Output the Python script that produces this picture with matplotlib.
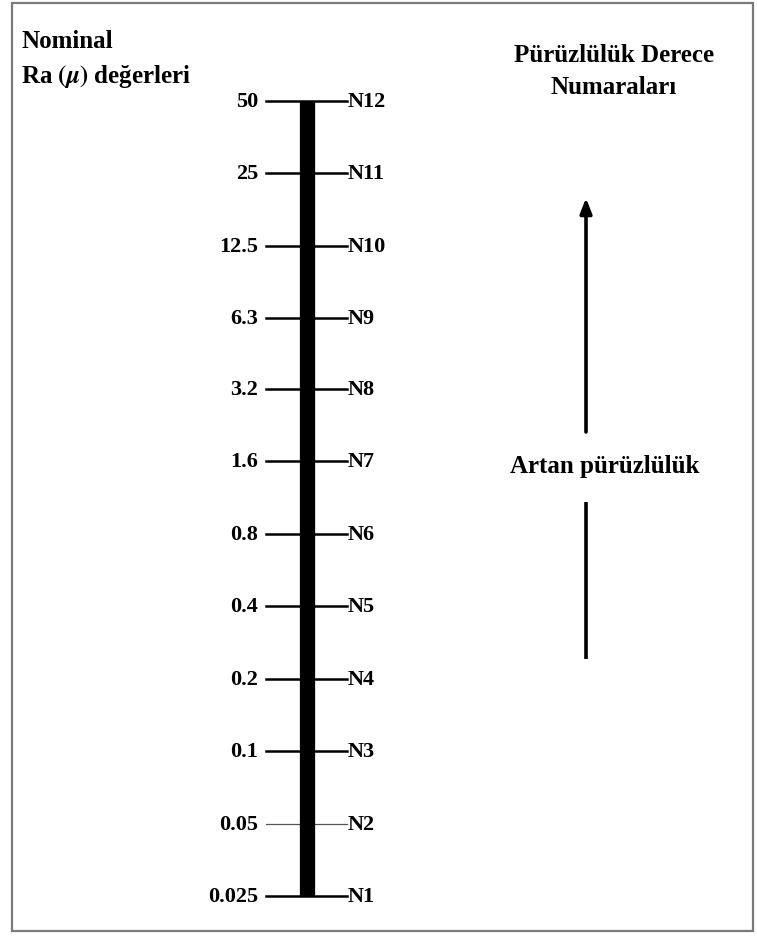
import matplotlib
matplotlib.use("Agg")
import matplotlib.pyplot as plt
from matplotlib.patches import Rectangle

ra_values = [50, 25, 12.5, 6.3, 3.2, 1.6, 0.8, 0.4, 0.2, 0.1, 0.05, 0.025]
ra_labels = ["50", "25", "12.5", "6.3", "3.2", "1.6", "0.8", "0.4", "0.2", "0.1", "0.05", "0.025"]
grade_labels = ["N12", "N11", "N10", "N9", "N8", "N7", "N6", "N5", "N4", "N3", "N2", "N1"]

title_left = ["Nominal", r"Ra $(\mu)$ değerleri"]
title_right = ["Pürüzlülük Derece", "Numaraları"]
arrow_text = "Artan pürüzlülük"

plt.rcParams["font.family"] = ["Liberation Serif", "DejaVu Serif"]
plt.rcParams["font.weight"] = "bold"
plt.rcParams["mathtext.fontset"] = "stix"

W, H = 757, 945
fig = plt.figure(figsize=(W / 100, H / 100), dpi=100)

# overlay in pixel coords for frame, titles and arrow
ov = fig.add_axes([0, 0, 1, 1])
ov.set_xlim(0, W)
ov.set_ylim(H, 0)
ov.axis("off")

ov.add_patch(Rectangle((12, 4), 741, 928, fill=False, edgecolor="#7a7a7a", lw=1.6))

ov.text(21, 42, title_left[0], fontsize=18, ha="left", va="center")
ov.text(21, 76, title_left[1], fontsize=18, ha="left", va="center")
ov.text(614, 56, title_right[0], fontsize=18, ha="center", va="center")
ov.text(614, 88, title_right[1], fontsize=18, ha="center", va="center")

ov.annotate("", xy=(586, 199), xytext=(586, 433),
            arrowprops=dict(arrowstyle="-|>,head_width=0.35,head_length=0.9",
                            color="black", lw=2.6, shrinkA=0, shrinkB=0))
ov.plot([586, 586], [503, 660], color="black", lw=2.6, solid_capstyle="butt")
ov.text(605, 467, arrow_text, fontsize=18, ha="center", va="center")

# scale axes: log y so the doubling steps are evenly spaced
y_top, y_bot = 102, 897
ax = fig.add_axes([0, (H - y_bot) / H, 1, (y_bot - y_top) / H])
ax.set_xlim(0, W)
ax.set_yscale("log")
ax.set_ylim(min(ra_values), max(ra_values))
ax.axis("off")

ax.plot([307, 307], [min(ra_values), max(ra_values)], color="black", lw=11,
        solid_capstyle="butt", zorder=3)

for val, left, right in zip(ra_values, ra_labels, grade_labels):
    if val == 0.05:
        ax.plot([266, 347], [val, val], color="#555555", lw=0.9, clip_on=False)
    else:
        ax.plot([266, 347], [val, val], color="black", lw=1.8, clip_on=False)
    ax.text(258, val, left, fontsize=16, ha="right", va="center", clip_on=False)
    ax.text(348, val, right, fontsize=16, ha="left", va="center", clip_on=False)

fig.savefig("out.png", dpi=100, facecolor="white")
plt.close(fig)
